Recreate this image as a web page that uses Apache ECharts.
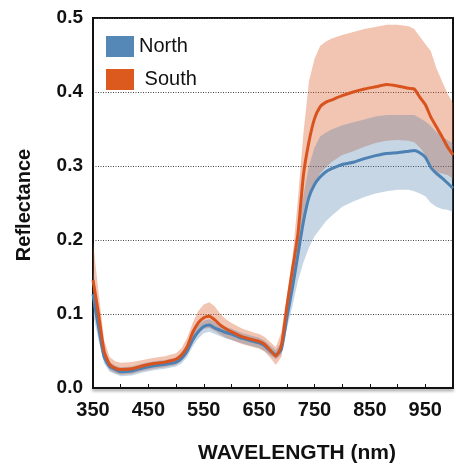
<!DOCTYPE html>
<html>
<head>
<meta charset="utf-8">
<script src="https://cdn.jsdelivr.net/npm/echarts@6/dist/echarts.min.js"></script>
<style>
  html, body { margin: 0; padding: 0; background: #fff; }
  #chart { width: 456px; height: 466px; }
</style>
</head>
<body>
<div id="chart"></div>
<script>
// Wavelengths (nm) of the sampled spectra
const wavelength = [350, 360, 370, 380, 390, 400, 420, 440, 460, 480, 500, 510, 520, 530, 540, 550, 560, 570, 580, 590, 600, 620, 640, 650, 660, 670, 680, 690, 700, 710, 720, 730, 740, 750, 760, 770, 780, 800, 820, 840, 860, 880, 900, 920, 930, 940, 950, 960, 970, 980, 990, 1000];

// Mean reflectance, North
const northMean = [0.127, 0.082, 0.042, 0.029, 0.025, 0.022, 0.023, 0.027, 0.030, 0.032, 0.035, 0.040, 0.050, 0.065, 0.076, 0.083, 0.085, 0.081, 0.078, 0.075, 0.073, 0.067, 0.063, 0.061, 0.057, 0.050, 0.045, 0.052, 0.095, 0.135, 0.180, 0.225, 0.258, 0.275, 0.285, 0.292, 0.296, 0.302, 0.305, 0.310, 0.314, 0.317, 0.318, 0.320, 0.321, 0.318, 0.312, 0.298, 0.290, 0.284, 0.277, 0.270];
// North spread: upper and lower bounds
const northHigh = [0.160, 0.100, 0.050, 0.035, 0.030, 0.028, 0.029, 0.033, 0.036, 0.038, 0.041, 0.047, 0.058, 0.074, 0.085, 0.091, 0.093, 0.089, 0.085, 0.082, 0.080, 0.074, 0.070, 0.068, 0.064, 0.057, 0.051, 0.062, 0.112, 0.165, 0.215, 0.260, 0.300, 0.325, 0.340, 0.345, 0.349, 0.355, 0.359, 0.363, 0.367, 0.369, 0.369, 0.369, 0.369, 0.365, 0.360, 0.354, 0.346, 0.340, 0.335, 0.330];
const northLow = [0.100, 0.065, 0.033, 0.022, 0.019, 0.016, 0.017, 0.021, 0.024, 0.026, 0.029, 0.033, 0.042, 0.056, 0.067, 0.074, 0.076, 0.073, 0.070, 0.067, 0.065, 0.060, 0.056, 0.054, 0.050, 0.044, 0.039, 0.045, 0.080, 0.110, 0.145, 0.170, 0.190, 0.205, 0.215, 0.225, 0.232, 0.245, 0.252, 0.258, 0.263, 0.266, 0.268, 0.268, 0.266, 0.263, 0.259, 0.250, 0.245, 0.242, 0.241, 0.238];

// Mean reflectance, South
const southMean = [0.146, 0.100, 0.050, 0.032, 0.027, 0.025, 0.026, 0.030, 0.033, 0.035, 0.039, 0.045, 0.056, 0.075, 0.088, 0.095, 0.097, 0.092, 0.085, 0.080, 0.076, 0.069, 0.065, 0.063, 0.059, 0.051, 0.043, 0.057, 0.110, 0.160, 0.208, 0.288, 0.333, 0.364, 0.380, 0.386, 0.389, 0.395, 0.400, 0.404, 0.407, 0.410, 0.408, 0.405, 0.404, 0.393, 0.383, 0.366, 0.353, 0.340, 0.326, 0.315];
// South spread: upper and lower bounds
const southHigh = [0.197, 0.130, 0.065, 0.042, 0.036, 0.034, 0.035, 0.038, 0.041, 0.043, 0.047, 0.054, 0.068, 0.088, 0.104, 0.113, 0.116, 0.110, 0.100, 0.093, 0.088, 0.080, 0.075, 0.073, 0.069, 0.062, 0.055, 0.075, 0.125, 0.175, 0.255, 0.345, 0.415, 0.445, 0.462, 0.468, 0.472, 0.477, 0.481, 0.485, 0.488, 0.491, 0.491, 0.489, 0.485, 0.475, 0.465, 0.455, 0.432, 0.415, 0.398, 0.385];
const southLow = [0.110, 0.075, 0.038, 0.024, 0.020, 0.018, 0.019, 0.023, 0.026, 0.028, 0.031, 0.037, 0.046, 0.063, 0.074, 0.080, 0.081, 0.077, 0.072, 0.068, 0.065, 0.059, 0.055, 0.053, 0.049, 0.041, 0.031, 0.042, 0.090, 0.135, 0.175, 0.220, 0.255, 0.275, 0.290, 0.298, 0.305, 0.315, 0.320, 0.326, 0.331, 0.334, 0.335, 0.334, 0.332, 0.325, 0.315, 0.300, 0.292, 0.290, 0.288, 0.283];

const xLabelValues = [350, 450, 550, 650, 750, 850, 950];
const yLabelValues = [0.0, 0.1, 0.2, 0.3, 0.4, 0.5];

const NORTH = '#4d81b3';
const SOUTH = '#d9531e';
const FONT = '"Liberation Sans", Arial, Helvetica, sans-serif';

const pairs = ys => wavelength.map((w, i) => [w, ys[i]]);

// A shaded band between lower and upper bounds, drawn as one polygon
function band(hi, lo, fill) {
  return {
    type: 'custom',
    data: wavelength.map((w, i) => [w, lo[i], hi[i]]),
    encode: { x: 0, y: [1, 2] },
    silent: true,
    z: 2,
    clip: true,
    renderItem: (params, api) => {
      if (params.dataIndex !== 0) return null;
      const top = wavelength.map((w, i) => api.coord([w, hi[i]]));
      const bottom = wavelength.map((w, i) => api.coord([w, lo[i]])).reverse();
      return {
        type: 'polygon',
        shape: { points: top.concat(bottom) },
        style: { fill: fill, stroke: null }
      };
    }
  };
}

const chart = echarts.init(document.getElementById('chart'), null, { renderer: 'canvas' });
chart.setOption({
  animation: false,
  backgroundColor: '#ffffff',
  grid: {
    left: 93, top: 18, bottom: 78, right: -6,
    show: true, borderColor: '#111', borderWidth: 2, backgroundColor: 'transparent'
  },
  legend: {
    data: [
      { name: 'North', icon: 'rect', itemStyle: { color: '#5588b6' } },
      { name: 'South', icon: 'rect', itemStyle: { color: '#dd5a1e' } }
    ],
    orient: 'vertical', left: 101, top: 31,
    itemWidth: 28, itemHeight: 21, itemGap: 12,
    formatter: n => (n === 'South' ? ' ' + n : n),
    textStyle: { fontFamily: FONT, fontSize: 20, color: '#111' }
  },
  xAxis: {
    type: 'value', min: 350, max: 1000, interval: 50,
    axisLine: { onZero: false, lineStyle: { color: '#111', width: 2, shadowColor: 'rgba(0,0,0,0.45)', shadowBlur: 3, shadowOffsetY: 2 } },
    axisTick: { inside: true, length: 4, lineStyle: { color: '#111', width: 1 } },
    splitLine: { show: false },
    axisLabel: {
      margin: 12,
      formatter: v => (xLabelValues.includes(v) ? String(v) : ''),
      fontFamily: FONT, fontWeight: 'bold', fontSize: 20, color: '#111'
    }
  },
  yAxis: {
    type: 'value', min: 0, max: 0.5, interval: 0.1,
    axisLine: { show: true, lineStyle: { color: '#111', width: 2 } },
    axisTick: { show: false },
    splitLine: { show: true, lineStyle: { color: '#444', width: 1, type: [1, 1.5] } },
    axisLabel: {
      margin: 10,
      formatter: v => {
        const hit = yLabelValues.find(t => Math.abs(t - v) < 1e-6);
        return hit === undefined ? '' : hit.toFixed(1);
      },
      fontFamily: FONT, fontWeight: 'bold', fontSize: 19, color: '#111'
    }
  },
  graphic: [
    {
      type: 'text', x: 24, y: 205, rotation: Math.PI / 2,
      style: { text: 'Reflectance', textAlign: 'center', textVerticalAlign: 'middle', font: 'bold 20px ' + FONT, fill: '#111' }
    },
    {
      type: 'text', x: 297, y: 453,
      style: { text: 'WAVELENGTH (nm)', textAlign: 'center', textVerticalAlign: 'middle', font: 'bold 21px ' + FONT, fill: '#111' }
    }
  ],
  series: [
    band(southHigh, southLow, 'rgba(217,83,30,0.34)'),
    band(northHigh, northLow, 'rgba(71,123,168,0.31)'),
    {
      name: 'North', type: 'line', data: pairs(northMean), symbol: 'none', smooth: 0.2,
      lineStyle: { color: NORTH, width: 3 }, itemStyle: { color: NORTH }, z: 3
    },
    {
      name: 'South', type: 'line', data: pairs(southMean), symbol: 'none', smooth: 0.2,
      lineStyle: { color: SOUTH, width: 3 }, itemStyle: { color: SOUTH }, z: 4
    }
  ]
});
</script>
</body>
</html>
